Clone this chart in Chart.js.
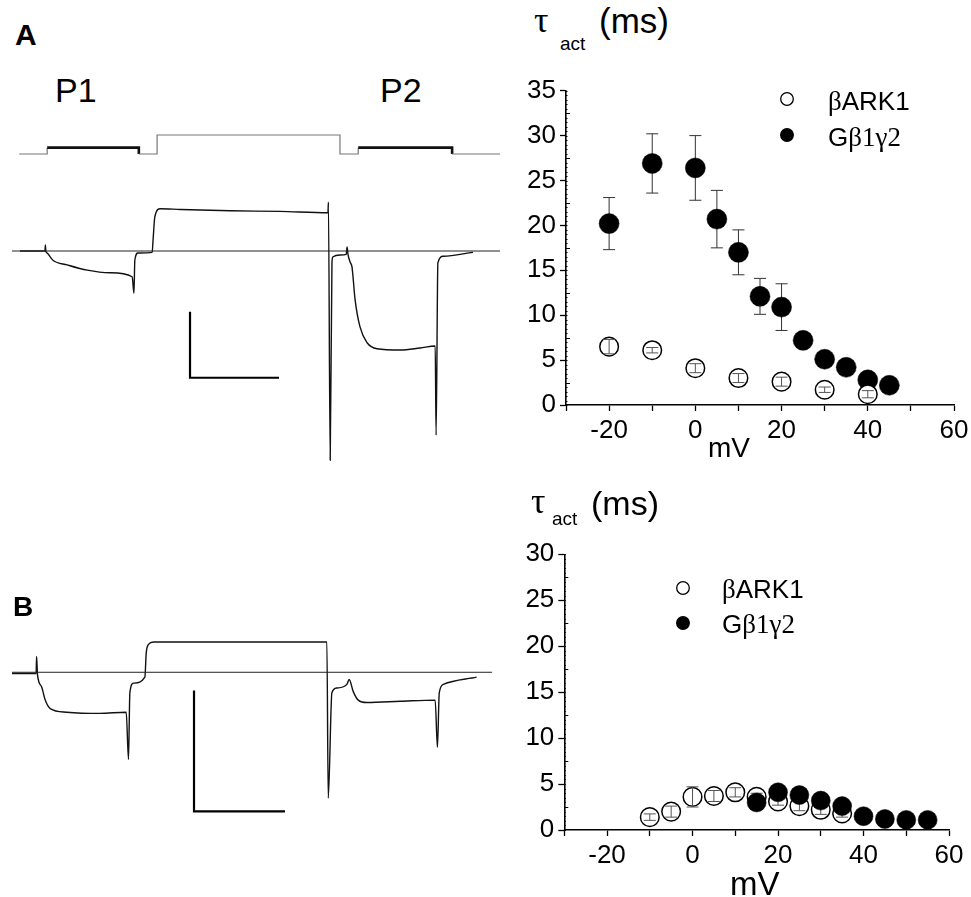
<!DOCTYPE html>
<html>
<head>
<meta charset="utf-8">
<script src="https://cdn.jsdelivr.net/npm/chart.js@4.4.1/dist/chart.umd.min.js"></script>
<style>
  body { margin: 0; background: #fff; }
  #fig { position: relative; width: 971px; height: 897px; overflow: hidden; background: #fff; }
  #fig canvas { position: absolute; }
  .lbl { position: absolute; line-height: 1; white-space: nowrap; color: #000; font-family: 'Liberation Sans', Arial, sans-serif; }
  .serif { font-family: 'Liberation Serif', 'Times New Roman', serif; }
</style>
</head>
<body>
<div id="fig">
  <canvas id="traceA" width="500" height="350" style="left:0;top:120px"></canvas>
  <canvas id="traceB" width="500" height="200" style="left:0;top:620px"></canvas>
  <canvas id="tauA" width="471" height="385" style="left:500px;top:60px"></canvas>
  <canvas id="tauB" width="471" height="350" style="left:500px;top:520px"></canvas>

  <div class="lbl" style="left:15px;top:19.6px;font-size:30px;font-weight:bold">A</div>
  <div class="lbl" style="left:13px;top:593px;font-size:28px;font-weight:bold">B</div>
  <div class="lbl" style="left:55px;top:73px;font-size:34px">P1</div>
  <div class="lbl" style="left:380px;top:73px;font-size:34px">P2</div>

  <div class="lbl serif" style="left:534px;top:2px;font-size:36px">τ</div>
  <div class="lbl" style="left:560px;top:34px;font-size:19px">act</div>
  <div class="lbl" style="left:599px;top:3px;font-size:35px">(ms)</div>
  <div class="lbl" style="left:708px;top:434px;font-size:28px">mV</div>

  <div class="lbl serif" style="left:531px;top:483px;font-size:36px">τ</div>
  <div class="lbl" style="left:552px;top:509px;font-size:19px">act</div>
  <div class="lbl" style="left:591px;top:486px;font-size:34px">(ms)</div>
  <div class="lbl" style="left:730px;top:867px;font-size:33px">mV</div>
</div>
<script>
// ---- panel A traces (time in ms, current in nA, voltage in mV)
const protoT = [1.6, 7.9, 28.5, 32.6, 73.7, 77.8, 98.9, 109.7];
const protoV = [-80, -20, -80, 100, -80, -20, -80, -80];

const traceAT = [1.8, 7.4, 7.5, 7.6, 7.9, 9.2, 12.4, 16.9, 22.0, 27.0, 27.4, 27.6, 28.3, 31.5, 31.7, 32.1, 33.3, 37.8, 49.0, 60.2,
  71.0, 71.1, 71.5, 71.9, 72.1, 73.7, 75.1, 75.3, 75.5, 76.0, 76.4, 77.1, 78.2, 79.8, 82.0, 87.2, 91.7, 95.1, 95.3, 95.7, 96.9, 103.6];
const traceAI = [0, 0, 0.09, 0, -0.03, -0.14, -0.21, -0.29, -0.33, -0.39, -0.64, -0.14, -0.03, -0.02, 0.17, 0.52, 0.64, 0.63, 0.61, 0.60,
  0.58, 0.74, -3.17, -0.17, -0.09, -0.06, -0.05, 0.06, -0.05, -0.17, -0.24, -0.74, -1.15, -1.39, -1.48, -1.50, -1.47, -1.44, -2.79, -0.18, -0.08, -0.02];

// ---- panel B traces
const traceBT = [0, 5.3, 5.4, 5.6, 6.5, 7.3, 8.4, 12.0, 19.3, 25.1, 25.6, 25.9, 26.7, 29.2, 29.5, 30.0, 31.1, 50.1, 69.2, 69.5,
  70.3, 71.4, 73.6, 74.1, 75.0, 76.1, 78.0, 85.3, 93.0, 93.5, 93.9, 94.8, 102.1];
const traceBI = [-0.01, -0.01, 0.13, -0.02, -0.12, -0.23, -0.30, -0.33, -0.34, -0.33, -0.72, -0.17, -0.09, -0.04, 0.16, 0.23, 0.25, 0.25, 0.25, -1.04,
  -0.17, -0.13, -0.10, -0.06, -0.16, -0.23, -0.25, -0.24, -0.23, -0.62, -0.17, -0.10, -0.04];

// scale bars: 20 ms, 1 nA
const barT = [40, 40, 60];
const barAI = [-0.92, -1.92, -1.92];
const barBI = [-0.15, -1.15, -1.15];

// ---- tau act vs voltage
const seriesNames = ['βARK1', 'Gβ1γ2'];
const voltsArkA = [-20, -10, 0, 10, 20, 30, 40];
const tauArkA = [6.5, 6.1, 4.1, 3.0, 2.6, 1.7, 1.2];
const errArkA = [0.8, 0.3, 0.5, 0.5, 0.5, 0.3, 0.4];
const voltsGbgA = [-20, -10, 0, 5, 10, 15, 20, 25, 30, 35, 40, 45];
const tauGbgA = [20.2, 26.9, 26.4, 20.7, 17.0, 12.1, 10.9, 7.2, 5.1, 4.2, 2.8, 2.2];
const errGbgA = [2.9, 3.3, 3.6, 3.2, 2.5, 2.0, 2.6, 0.3, 0.3, 0.3, 0.3, 0.3];

const voltsArkB = [-10, -5, 0, 5, 10, 15, 20, 25, 30, 35];
const tauArkB = [1.4, 2.0, 3.6, 3.7, 4.1, 3.6, 3.1, 2.6, 2.2, 1.8];
const errArkB = [0.35, 0.6, 1.1, 0.6, 0.5, 0.4, 0.4, 0.5, 0.5, 0.4];
const voltsGbgB = [15, 20, 25, 30, 35, 40, 45, 50, 55];
const tauGbgB = [3.0, 4.1, 3.8, 3.2, 2.6, 1.5, 1.2, 1.1, 1.1];
const errGbgB = [0.3, 0.3, 0.3, 0.3, 0.3, 0.2, 0.2, 0.2, 0.2];

const xTicksMv = [-30, 60, 10];

function pts(xs, ys) { return xs.map((x, i) => ({ x: x, y: ys[i] })); }

Chart.defaults.font.family = "'Liberation Sans', Arial, sans-serif";
Chart.defaults.color = '#000';

// error bars, drawn under filled markers and over open ones
function drawErr(chart, index) {
  const ds = chart.data.datasets[index];
  if (!ds.errors) return;
  const meta = chart.getDatasetMeta(index);
  const y = chart.scales.y;
  const ctx = chart.ctx;
  ctx.save();
  ctx.strokeStyle = ds.errColor || '#444';
  ctx.lineWidth = 1;
  meta.data.forEach(function (pt, i) {
    const v = ds.data[i].y, e = ds.errors[i];
    const top = y.getPixelForValue(v + e), bot = y.getPixelForValue(v - e);
    ctx.beginPath();
    ctx.moveTo(pt.x, top); ctx.lineTo(pt.x, bot);
    ctx.moveTo(pt.x - 6, top); ctx.lineTo(pt.x + 6, top);
    ctx.moveTo(pt.x - 6, bot); ctx.lineTo(pt.x + 6, bot);
    ctx.stroke();
  });
  ctx.restore();
}
const errorBars = {
  id: 'errorBars',
  beforeDatasetDraw(chart, args) { if (!chart.data.datasets[args.index].errOnTop) drawErr(chart, args.index); },
  afterDatasetDraw(chart, args) { if (chart.data.datasets[args.index].errOnTop) drawErr(chart, args.index); }
};

// small inward ticks on the y axis between the labelled ones
const minorTicks = {
  id: 'minorTicks',
  afterDraw(chart) {
    const y = chart.scales.y, ctx = chart.ctx, x0 = chart.chartArea.left;
    ctx.save();
    ctx.strokeStyle = '#000';
    ctx.lineWidth = 1;
    ctx.beginPath();
    for (let v = 0; v <= y.max; v += 0.5) {
      const py = Math.round(y.getPixelForValue(v)) + 0.5;
      const len = (v % 2.5 === 0 && v % 5 !== 0) ? 4 : 1.5;
      ctx.moveTo(x0, py); ctx.lineTo(x0 + len, py);
    }
    ctx.stroke();
    ctx.restore();
  }
};

// legend with sans text and serif greek letters
const legendParts = [
  [['β', 'serif'], ['ARK1', 'sans']],
  [['G', 'sans'], ['β1γ2', 'serif']]
];
const markerLegend = {
  id: 'markerLegend',
  afterDraw(chart, args, opts) {
    const ctx = chart.ctx;
    ctx.save();
    legendParts.forEach(function (parts, k) {
      const cy = opts.y + k * opts.gap;
      ctx.beginPath();
      ctx.arc(opts.x, cy, 6.3, 0, Math.PI * 2);
      ctx.fillStyle = k === 0 ? '#fff' : '#000';
      ctx.fill();
      ctx.lineWidth = 1.3; ctx.strokeStyle = '#000'; ctx.stroke();
      let tx = opts.textX;
      ctx.fillStyle = '#000';
      ctx.textBaseline = 'alphabetic';
      parts.forEach(function (p) {
        ctx.font = p[1] === 'serif' ? "27px 'Liberation Serif', serif" : "26px 'Liberation Sans', Arial, sans-serif";
        ctx.fillText(p[0], tx, cy + opts.baseShift);
        tx += ctx.measureText(p[0]).width;
      });
    });
    ctx.restore();
  }
};

function traceChart(id, datasets, xr, yr, extraScales) {
  const scales = {
    x: { type: 'linear', display: false, min: xr[0], max: xr[1] },
    y: { type: 'linear', display: false, min: yr[0], max: yr[1] }
  };
  Object.assign(scales, extraScales || {});
  return new Chart(document.getElementById(id), {
    type: 'line',
    data: { datasets: datasets },
    options: {
      responsive: false, animation: false, events: [],
      layout: { padding: 0 },
      elements: { point: { radius: 0 }, line: { tension: 0 } },
      plugins: { legend: { display: false }, tooltip: { enabled: false } },
      scales: scales
    }
  });
}

// panel A: protocol + current
traceChart('traceA', [
  {
    data: pts(protoT, protoV), yAxisID: 'yV', stepped: 'before', borderColor: '#555', borderWidth: 1.2,
    segment: { borderWidth: c => c.p0.parsed.y === -20 ? 2.6 : 1.2, borderColor: c => c.p0.parsed.y === -20 ? '#111' : '#777' }
  },
  { data: pts([0, 109.7], [0, 0]), borderColor: '#222', borderWidth: 1 },
  { data: pts(traceAT, traceAI), borderColor: '#111', borderWidth: 1.4, cubicInterpolationMode: 'monotone' },
  { data: pts(barT, barAI), borderColor: '#000', borderWidth: 2.2 }
], [-2.7, 109.66], [-3.318, 1.985], {
  yV: { type: 'linear', display: false, min: -3075, max: 242 }
});

// panel B: current
traceChart('traceB', [
  { data: pts([0, 105.5], [0, 0]), borderColor: '#222', borderWidth: 1 },
  { data: pts(traceBT, traceBI), borderColor: '#111', borderWidth: 1.4, cubicInterpolationMode: 'monotone' },
  { data: pts(barT, barBI), borderColor: '#000', borderWidth: 2.2 }
], [-2.64, 107.25], [-1.221, 0.432]);

function tauChart(id, datasets, yMax, pad, yWidth, legendOpts) {
  return new Chart(document.getElementById(id), {
    type: 'scatter',
    data: { datasets: datasets },
    plugins: [errorBars, minorTicks, markerLegend],
    options: {
      responsive: false, animation: false, events: [],
      layout: { padding: pad },
      plugins: { legend: { display: false }, tooltip: { enabled: false }, markerLegend: legendOpts },
      scales: {
        x: {
          type: 'linear', min: xTicksMv[0], max: xTicksMv[1],
          ticks: { stepSize: xTicksMv[2], autoSkip: false, maxRotation: 0, padding: 4, font: { size: 26 }, color: '#000',
            callback: v => (v % 20 === 0 ? v : '') },
          grid: { drawOnChartArea: false, tickLength: 6, tickWidth: 1.3, color: '#000' },
          border: { color: '#000', width: 1.6 },
          afterFit(s) { s.height = 40; s.paddingLeft = 0; s.paddingRight = 0; }
        },
        y: {
          type: 'linear', min: 0, max: yMax,
          ticks: { stepSize: 5, padding: 4, font: { size: 26 }, color: '#000' },
          grid: { drawOnChartArea: false, tickLength: 6, tickWidth: 1.3, color: '#000' },
          border: { color: '#000', width: 1.6 },
          afterFit(s) { s.width = yWidth; s.paddingTop = 0; s.paddingBottom = 0; }
        }
      }
    }
  });
}

const openStyle = { pointRadius: 9.3, backgroundColor: '#fff', borderColor: '#000', borderWidth: 1.5, errOnTop: true, errColor: '#555' };
const fillStyle = { pointRadius: 10, backgroundColor: '#000', borderColor: '#000', borderWidth: 0.5, errOnTop: false, errColor: '#333' };

// top: open markers sit over filled ones
tauChart('tauA', [
  Object.assign({ label: seriesNames[0], data: pts(voltsArkA, tauArkA), errors: errArkA }, openStyle),
  Object.assign({ label: seriesNames[1], data: pts(voltsGbgA, tauGbgA), errors: errGbgA }, fillStyle)
], 35, { top: 30.7, right: 17, bottom: 0, left: 0 }, 66, { x: 287, y: 39, gap: 36, textX: 328, baseShift: 11 });

// bottom: filled markers sit over open ones
tauChart('tauB', [
  Object.assign({ label: seriesNames[1], data: pts(voltsGbgB, tauGbgB), errors: errGbgB }, fillStyle, { pointRadius: 9.5 }),
  Object.assign({ label: seriesNames[0], data: pts(voltsArkB, tauArkB), errors: errArkB }, openStyle)
], 30, { top: 34.3, right: 22, bottom: 0, left: 0 }, 64.3, { x: 183, y: 68, gap: 35, textX: 222, baseShift: 10 });
</script>
</body>
</html>
